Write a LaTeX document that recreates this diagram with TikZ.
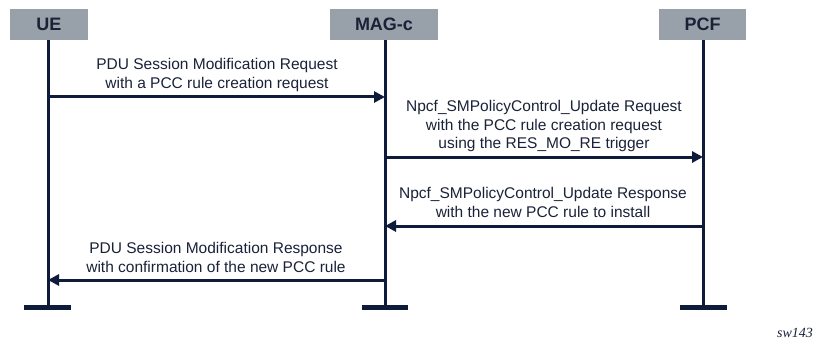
\documentclass[tikz,border=0pt]{standalone}
\usepackage{fontspec}
\setmainfont{Liberation Sans}
\newfontfamily\footserif{Liberation Serif}
\usetikzlibrary{arrows.meta}
\definecolor{hdrgray}{RGB}{152,161,169}
\definecolor{navy}{RGB}{14,27,58}
\definecolor{txt}{RGB}{26,34,56}
\tikzset{
  hdr/.style={fill=hdrgray, draw=none, minimum width=#1, minimum height=31pt, inner sep=0pt,
    font=\fontsize{18}{20}\selectfont\bfseries, text=txt},
  life/.style={draw=navy, line width=3pt},
  endbar/.style={draw=navy, line width=5pt},
  msg/.style={draw=navy, line width=3pt, -{Triangle[length=11pt,width=11pt]}},
  lbl/.style={align=center, inner sep=0pt, font=\fontsize{15.5}{18.5}\selectfont, text=txt},
}
\begin{document}
\begin{tikzpicture}[x=1pt,y=-1pt]
\useasboundingbox (0,0) rectangle (819,342);
% headers
\node[hdr=78pt] (ue)  at (49,24.5)  {UE};
\node[hdr=108pt] (mag) at (384,24.5) {MAG-c};
\node[hdr=87pt] (pcf) at (702.5,24.5) {PCF};
% lifeline ends
\coordinate (ueEnd)  at (48,307);
\coordinate (magEnd) at (385,307);
\coordinate (pcfEnd) at (703,307);
\draw[life] (ue.south -| ueEnd) -- (ueEnd);
\draw[life] (mag.south -| magEnd) -- (magEnd);
\draw[life] (pcf.south -| pcfEnd) -- (pcfEnd);
% end bars
\coordinate (ueBL) at (24,307);  \coordinate (ueBR) at (71,307);
\coordinate (magBL) at (362,307); \coordinate (magBR) at (408,307);
\coordinate (pcfBL) at (680,307); \coordinate (pcfBR) at (727,307);
\draw[endbar] (ueBL) -- (ueBR);
\draw[endbar] (magBL) -- (magBR);
\draw[endbar] (pcfBL) -- (pcfBR);
% message points
\coordinate (ue1) at (48,97);   \coordinate (mag1) at (385,97);
\coordinate (mag2) at (385,157); \coordinate (pcf2) at (703,157);
\coordinate (pcf3) at (703,226); \coordinate (mag3) at (385,226);
\coordinate (mag4) at (385,280); \coordinate (ue4) at (48,280);
\draw[msg] (ue1) -- (mag1);
\draw[msg] (mag2) -- (pcf2);
\draw[msg] (pcf3) -- (mag3);
\draw[msg] (mag4) -- (ue4);
% labels
\node[lbl] (l1) at (217,75) {PDU Session Modification Request\\with a PCC rule creation request};
\node[lbl] (l2) at (544,126) {Npcf\_SMPolicyControl\_Update Request\\with the PCC rule creation request\\using the RES\_MO\_RE trigger};
\node[lbl] (l3) at (543,202.5) {Npcf\_SMPolicyControl\_Update Response\\with the new PCC rule to install};
\node[lbl] (l4) at (216,257.5) {PDU Session Modification Response\\with confirmation of the new PCC rule};
% footer
\node[anchor=base west, inner sep=0pt, font=\footserif\itshape\fontsize{14}{16}\selectfont, text=txt] (foot) at (777,337) {sw143};
\end{tikzpicture}
\end{document}
